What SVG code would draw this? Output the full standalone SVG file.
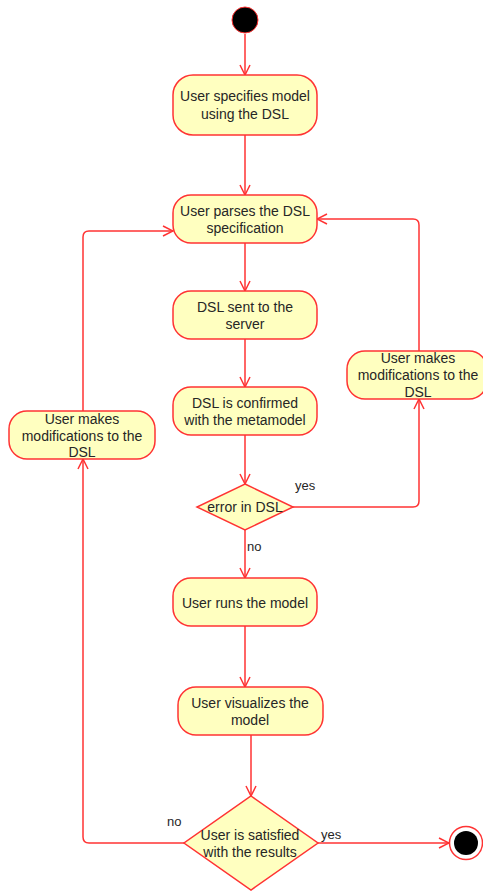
<svg xmlns="http://www.w3.org/2000/svg" width="483" height="892" viewBox="0 0 483 892">
  <style>
    .node { fill: #FFFFC0; stroke: #FF3333; stroke-width: 1.5; }
    .edge { fill: none; stroke: #FF3333; stroke-width: 1.5; }
    text { font-family: "Liberation Sans", Arial, sans-serif; font-size: 14px; fill: #262626; text-anchor: middle; }
    .lbl { font-size: 13px; text-anchor: start; }
  </style>
  <defs>
    <marker id="open" markerUnits="userSpaceOnUse" markerWidth="12" markerHeight="12" refX="10" refY="5" orient="auto" viewBox="-1 -1 12 12">
      <path d="M0,0 L10,5 L0,10" fill="none" stroke="#FF3333" stroke-width="1.5"/>
    </marker>
  </defs>
  <rect width="483" height="892" fill="#FFFFFF"/>

  <g id="connectors">
    <path class="edge" d="M245,34 V75" marker-end="url(#open)"/>
    <path class="edge" d="M245,135 V195" marker-end="url(#open)"/>
    <path class="edge" d="M245,243 V291" marker-end="url(#open)"/>
    <path class="edge" d="M245,339 V387" marker-end="url(#open)"/>
    <path class="edge" d="M245,435 V484" marker-end="url(#open)"/>
    <path class="edge" d="M245,530 V578" marker-end="url(#open)"/>
    <path class="edge" d="M245,626 V687" marker-end="url(#open)"/>
    <path class="edge" d="M251,735 V796" marker-end="url(#open)"/>
    <!-- error branch: back to parsing via right-hand modifications -->
    <path class="edge" d="M293,507 H413 Q419,507 419,501 V399" marker-end="url(#open)"/>
    <path class="edge" d="M419,351 V225 Q419,219 413,219 H317" marker-end="url(#open)"/>
    <!-- not satisfied: back to parsing via left-hand modifications -->
    <path class="edge" d="M184,843 H89 Q83,843 83,837 V459" marker-end="url(#open)"/>
    <path class="edge" d="M83,411 V237 Q83,231 89,231 H173" marker-end="url(#open)"/>
    <!-- satisfied: to final state -->
    <path class="edge" d="M318,843 H449" marker-end="url(#open)"/>
    <text class="lbl" x="295" y="490">yes</text>
    <text class="lbl" x="247" y="551">no</text>
    <text class="lbl" x="167" y="826">no</text>
    <text class="lbl" x="321" y="839">yes</text>
  </g>

  <g id="start">
    <circle cx="245" cy="20" r="13" fill="#000000" stroke="#FF3333" stroke-width="1"/>
  </g>

  <g id="specify">
    <rect class="node" x="173" y="75" width="144" height="60" rx="20"/>
    <text x="245" y="101">User specifies model</text>
    <text x="245" y="119">using the DSL</text>
  </g>

  <g id="parse">
    <rect class="node" x="173" y="195" width="144" height="48" rx="18"/>
    <text x="245" y="216">User parses the DSL</text>
    <text x="245" y="233">specification</text>
  </g>

  <g id="send">
    <rect class="node" x="173" y="291" width="144" height="48" rx="18"/>
    <text x="245" y="312">DSL sent to the</text>
    <text x="245" y="329">server</text>
  </g>

  <g id="confirm">
    <rect class="node" x="173" y="387" width="144" height="48" rx="18"/>
    <text x="245" y="408">DSL is confirmed</text>
    <text x="245" y="425">with the metamodel</text>
  </g>

  <g id="modify-right">
    <rect class="node" x="347" y="351" width="140" height="48" rx="18"/>
    <text x="418" y="363">User makes</text>
    <text x="418" y="380">modifications to the</text>
    <text x="418" y="397">DSL</text>
  </g>

  <g id="modify-left">
    <rect class="node" x="9" y="411" width="146" height="48" rx="18"/>
    <text x="82" y="424">User makes</text>
    <text x="82" y="441">modifications to the</text>
    <text x="82" y="457">DSL</text>
  </g>

  <g id="error-check">
    <polygon class="node" points="245,484 293,507 245,530 197,507"/>
    <text x="245" y="512">error in DSL</text>
  </g>

  <g id="run">
    <rect class="node" x="173" y="578" width="144" height="48" rx="18"/>
    <text x="245" y="608">User runs the model</text>
  </g>

  <g id="visualize">
    <rect class="node" x="178" y="687" width="145" height="48" rx="18"/>
    <text x="250" y="708">User visualizes the</text>
    <text x="250" y="725">model</text>
  </g>

  <g id="satisfied-check">
    <polygon class="node" points="251,796 318,843 251,890 184,843"/>
    <text x="250" y="840">User is satisfied</text>
    <text x="250" y="857">with the results</text>
  </g>

  <g id="final">
    <circle cx="466" cy="843" r="16.5" fill="#FFFFFF" stroke="#FF3333" stroke-width="1.5"/>
    <circle cx="466" cy="843" r="12" fill="#000000"/>
  </g>
</svg>
